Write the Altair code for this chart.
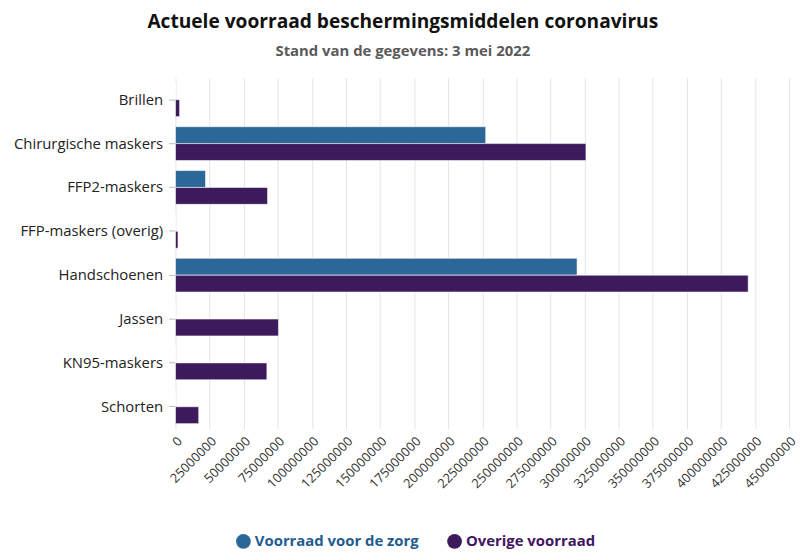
import altair as alt
import pandas as pd

categories = ["Brillen", "Chirurgische maskers", "FFP2-maskers", "FFP-maskers (overig)",
              "Handschoenen", "Jassen", "KN95-maskers", "Schorten"]
series = ["Voorraad voor de zorg", "Overige voorraad"]
zorg = [0, 227500000, 22000000, 0, 294500000, 0, 0, 0]
overige = [3000000, 301000000, 67500000, 1800000, 420000000, 75500000, 67000000, 17000000]
x_ticks = [0, 25000000, 50000000, 75000000, 100000000, 125000000, 150000000, 175000000,
           200000000, 225000000, 250000000, 275000000, 300000000, 325000000, 350000000,
           375000000, 400000000, 425000000, 450000000]
colors = ["#2b6898", "#3d1a5c"]

rows = []
for c, a, b in zip(categories, zorg, overige):
    rows.append({"categorie": c, "serie": series[0], "waarde": a})
    rows.append({"categorie": c, "serie": series[1], "waarde": b})
df = pd.DataFrame(rows)

FONT = "Open Sans"

chart = alt.Chart(df).mark_bar(stroke="#ffffff", strokeWidth=0.8, strokeOpacity=0.7).encode(
    y=alt.Y("categorie:N", sort=categories, title=None,
            scale=alt.Scale(paddingInner=0.23, paddingOuter=0.115),
            axis=alt.Axis(labelFontSize=15, labelColor="#222222", labelFont=FONT,
                          tickColor="#bbbbbb", tickSize=7, labelPadding=6,
                          domain=False, grid=False)),
    yOffset=alt.YOffset("serie:N", sort=series, scale=alt.Scale(paddingInner=0, paddingOuter=0)),
    x=alt.X("waarde:Q", title=None,
            scale=alt.Scale(domain=[0, 450000000], nice=False),
            axis=alt.Axis(values=x_ticks, format="d", labelAngle=-45, labelFontSize=13,
                          labelColor="#333333", labelFont=FONT, domain=False, ticks=False,
                          labelPadding=6, gridColor="#e4e4e4", labelFlush=False,
                          labelOverlap=False, labelBound=False)),
    color=alt.Color("serie:N", sort=series,
                    scale=alt.Scale(domain=series, range=colors),
                    legend=alt.Legend(title=None, orient="none", legendX=61, legendY=460,
                                      direction="horizontal",
                                      symbolType="circle", symbolSize=220, symbolStrokeWidth=0,
                                      labelFontSize=15, labelFont=FONT, labelFontWeight="bold",
                                      labelColor={"expr": "datum.label == 'Overige voorraad' ? '#42145f' : '#1f5c8f'"},
                                      columnPadding=28, labelLimit=400)),
).properties(
    width=619,
    height=354,
    autosize=alt.AutoSizeParams(type="none"),
    padding={"left": 169, "top": 68, "right": 11, "bottom": 123},
    title=alt.TitleParams(
        text="Actuele voorraad beschermingsmiddelen coronavirus",
        subtitle="Stand van de gegevens: 3 mei 2022",
        anchor="middle", frame="bounds", font=FONT, fontSize=19.3, fontWeight="bold",
        color="#111111", subtitleFont=FONT, subtitleFontSize=15, subtitleFontWeight="bold",
        subtitleColor="#5a5a5a", subtitlePadding=12, offset=19, dx=-3),
).configure_view(stroke=None)

chart.save("out.html", embed_options={"renderer": "svg", "actions": False})
